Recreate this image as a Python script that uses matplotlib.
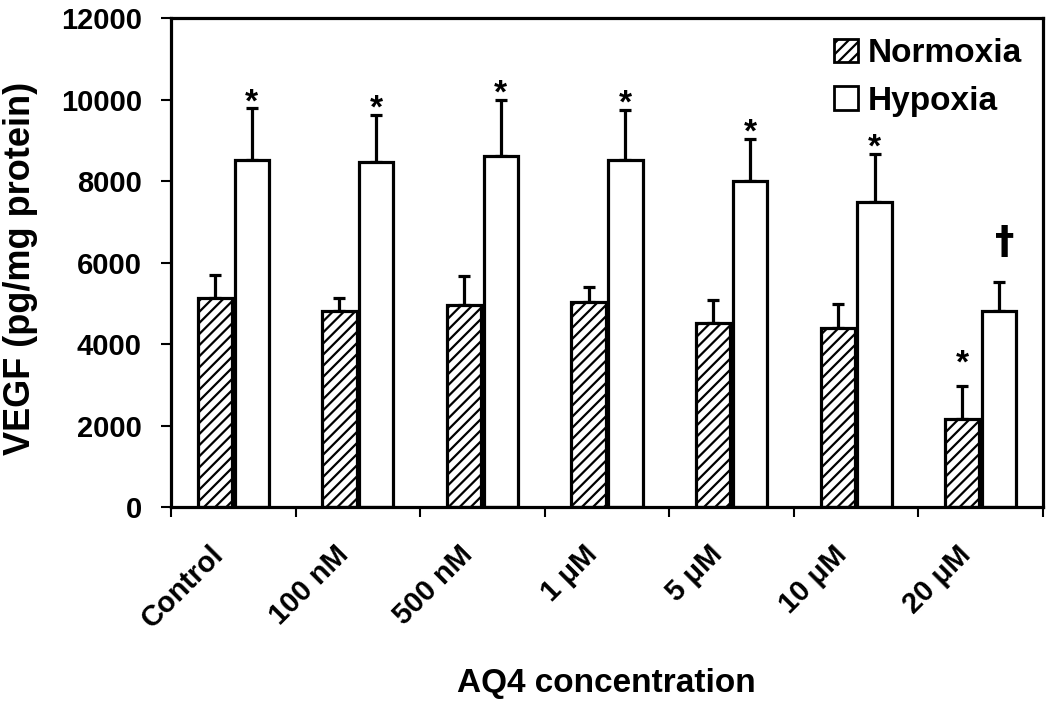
import numpy as np
import matplotlib
matplotlib.use("Agg")
import matplotlib.pyplot as plt
from matplotlib.patches import Patch

# data
categories = ["Control", "100 nM", "500 nM", "1 \u03bcM", "5 \u03bcM", "10 \u03bcM", "20 \u03bcM"]
normoxia = [5130, 4820, 4960, 5030, 4510, 4400, 2160]
normoxia_err = [560, 300, 700, 370, 570, 580, 810]
hypoxia = [8520, 8460, 8620, 8520, 8000, 7490, 4820]
hypoxia_err = [1260, 1170, 1370, 1230, 1040, 1180, 710]
normoxia_marks = ["", "", "", "", "", "", "*"]
hypoxia_marks = ["*", "*", "*", "*", "*", "*", "\u2020"]

plt.rcParams["font.family"] = ["Liberation Sans", "DejaVu Sans"]
plt.rcParams["font.weight"] = "bold"
plt.rcParams["hatch.linewidth"] = 1.6

fig = plt.figure(figsize=(10.5, 7.04), dpi=100)
ax = fig.add_axes([0.1629, 0.2798, 0.8304, 0.6946])

x = np.arange(len(categories))
w = 0.275
off = 0.148

ax.bar(x - off, normoxia, w, color="white", edgecolor="black", linewidth=2.3,
       hatch="///", zorder=2)
ax.bar(x + off, hypoxia, w, color="white", edgecolor="black", linewidth=2.3, zorder=2)

# upper error bars only
ax.errorbar(x - off, normoxia, yerr=[np.zeros(len(x)), normoxia_err], fmt="none",
            ecolor="black", elinewidth=2.3, capsize=4, capthick=2.3, zorder=1)
ax.errorbar(x + off, hypoxia, yerr=[np.zeros(len(x)), hypoxia_err], fmt="none",
            ecolor="black", elinewidth=2.3, capsize=4, capthick=2.3, zorder=1)

# significance marks above the error caps
for i in range(len(x)):
    if normoxia_marks[i]:
        ax.annotate(normoxia_marks[i], (x[i] - off, normoxia[i] + normoxia_err[i]),
                    xytext=(0, 10), textcoords="offset points",
                    ha="center", va="baseline", fontsize=24, fontweight="bold")
    m = hypoxia_marks[i]
    if m == "*":
        ax.annotate(m, (x[i] + off, hypoxia[i] + hypoxia_err[i]),
                    xytext=(0, -2), textcoords="offset points",
                    ha="center", va="baseline", fontsize=24, fontweight="bold")
    elif m:
        ax.annotate(m, (x[i] + off, hypoxia[i] + hypoxia_err[i]),
                    xytext=(4, 20), textcoords="offset points",
                    ha="center", va="baseline", fontsize=28, fontweight="bold",
                    family="DejaVu Sans")

ax.set_xlim(-0.5, len(x) - 0.5)
ax.set_ylim(0, 12000)
ax.set_yticks(np.arange(0, 12001, 2000))
ax.tick_params(axis="y", labelsize=21, width=1.5, length=7, pad=14, direction="out")

# labels sit a little left of the group centres, as in the original
ax.set_xticks(x - 0.19)
ax.set_xticklabels(categories, rotation=45, ha="right", rotation_mode="anchor",
                   fontsize=21, fontweight="bold")
ax.tick_params(axis="x", length=0, pad=24)
ax.set_xticks(np.arange(-0.5, len(x), 1), minor=True)
ax.tick_params(axis="x", which="minor", length=7, width=1.5, direction="out")

for s in ax.spines.values():
    s.set_linewidth(2.3)

ax.set_ylabel("VEGF (pg/mg protein)", fontsize=26, fontweight="bold", va="center")
ax.yaxis.set_label_coords(-0.173, 0.487)
ax.set_xlabel("AQ4 concentration", fontsize=24, fontweight="bold", va="center")
ax.xaxis.set_label_coords(0.499, -0.36)

handles = [Patch(facecolor="white", edgecolor="black", hatch="///", linewidth=2, label="Normoxia"),
           Patch(facecolor="white", edgecolor="black", linewidth=2, label="Hypoxia")]
ax.legend(handles=handles, loc="upper right", bbox_to_anchor=(0.995, 0.993),
          frameon=False, fontsize=24,
          handlelength=0.72, handleheight=0.72, handletextpad=0.3, labelspacing=0.5,
          borderaxespad=0.2, borderpad=0.3)

fig.savefig("out.png", dpi=100)
